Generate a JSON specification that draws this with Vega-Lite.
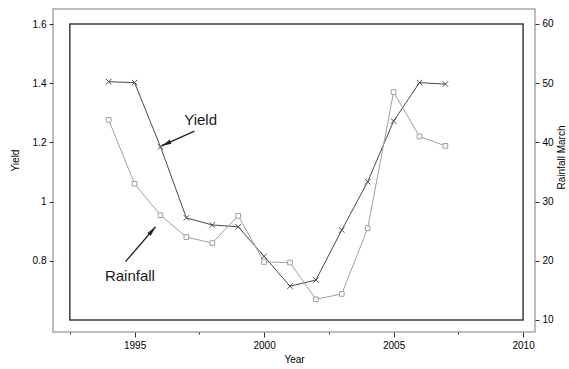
{
  "$schema": "https://vega.github.io/schema/vega-lite/v6.json",
  "width": 482,
  "height": 323,
  "autosize": "none",
  "padding": {"left": 53, "top": 9, "right": 34, "bottom": 37},
  "background": "white",
  "config": {
    "view": {"stroke": "#a8a8a8", "strokeWidth": 1.5},
    "font": "Liberation Sans",
    "axis": {
      "domain": false,
      "grid": false,
      "labelFont": "Liberation Sans",
      "labelFontSize": 10,
      "labelColor": "#000000",
      "tickColor": "#333333",
      "tickWidth": 1,
      "titleFont": "Liberation Sans",
      "titleFontSize": 10,
      "titleFontWeight": "normal",
      "titleColor": "#000000"
    }
  },
  "datasets": {
    "series": [
      {"year": 1994, "yield": 1.405, "rainfall": 43.8},
      {"year": 1995, "yield": 1.402, "rainfall": 33.0},
      {"year": 1996, "yield": 1.185, "rainfall": 27.7},
      {"year": 1997, "yield": 0.945, "rainfall": 24.0},
      {"year": 1998, "yield": 0.921, "rainfall": 23.0},
      {"year": 1999, "yield": 0.915, "rainfall": 27.6},
      {"year": 2000, "yield": 0.815, "rainfall": 19.8},
      {"year": 2001, "yield": 0.714, "rainfall": 19.7},
      {"year": 2002, "yield": 0.735, "rainfall": 13.5},
      {"year": 2003, "yield": 0.904, "rainfall": 14.4},
      {"year": 2004, "yield": 1.067, "rainfall": 25.5},
      {"year": 2005, "yield": 1.272, "rainfall": 48.5},
      {"year": 2006, "yield": 1.402, "rainfall": 41.0},
      {"year": 2007, "yield": 1.397, "rainfall": 39.4}
    ],
    "notes": [
      {"label": "Yield", "tx": 1997.55, "ty": 1.276, "ax": 1997.31, "ay": 1.238, "hx": 1996.04, "hy": 1.188},
      {"label": "Rainfall", "tx": 1994.82, "ty": 0.749, "ax": 1994.65, "ay": 0.797, "hx": 1995.81, "hy": 0.915}
    ]
  },
  "resolve": {"scale": {"y": "independent"}},
  "layer": [
    {
      "layer": [
        {
          "data": {"values": [{}]},
          "mark": {"type": "rect", "filled": false, "color": "#3c3c3c", "strokeWidth": 1.5},
          "encoding": {
            "x": {"datum": 1992.5, "type": "quantitative", "scale": {"domain": [1991.85, 2010.46], "nice": false, "zero": false}},
            "x2": {"datum": 2010},
            "y": {"datum": 0.6, "type": "quantitative", "scale": {"domain": [0.5594, 1.6507], "nice": false, "zero": false}},
            "y2": {"datum": 1.6}
          }
        },
        {
          "data": {"name": "series"},
          "mark": {"type": "line", "color": "#4a4a4a", "strokeWidth": 1},
          "encoding": {
            "x": {
              "field": "year", "type": "quantitative",
              "scale": {"domain": [1991.85, 2010.46], "nice": false, "zero": false},
              "axis": {
                "orient": "bottom",
                "values": [1992.5, 1995, 1997.5, 2000, 2002.5, 2005, 2007.5, 2010],
                "format": "d",
                "labelExpr": "datum.value % 5 === 0 ? datum.label : ''",
                "tickSize": {"condition": {"test": "datum.value % 5 === 0", "value": 5}, "value": 2},
                "labelPadding": 3,
                "title": "Year",
                "titlePadding": 4
              }
            },
            "y": {
              "field": "yield", "type": "quantitative",
              "scale": {"domain": [0.5594, 1.6507], "nice": false, "zero": false},
              "axis": {
                "orient": "left",
                "values": [0.8, 1, 1.2, 1.4, 1.6],
                "format": "~g",
                "tickSize": 4,
                "labelPadding": 3,
                "title": "Yield",
                "titlePadding": 12,
                "titleY": 151
              }
            }
          }
        },
        {
          "data": {"name": "series"},
          "mark": {"type": "point", "shape": "M-1,-1L1,1M-1,1L1,-1", "filled": false, "size": 30, "strokeWidth": 1, "color": "#4a4a4a", "opacity": 1},
          "encoding": {
            "x": {"field": "year", "type": "quantitative", "scale": {"domain": [1991.85, 2010.46], "nice": false, "zero": false}},
            "y": {"field": "yield", "type": "quantitative", "scale": {"domain": [0.5594, 1.6507], "nice": false, "zero": false}}
          }
        },
        {
          "data": {"name": "notes"},
          "mark": {"type": "rule", "color": "#222222", "strokeWidth": 1.3},
          "encoding": {
            "x": {"field": "ax", "type": "quantitative", "scale": {"domain": [1991.85, 2010.46], "nice": false, "zero": false}},
            "y": {"field": "ay", "type": "quantitative", "scale": {"domain": [0.5594, 1.6507], "nice": false, "zero": false}},
            "x2": {"field": "hx"},
            "y2": {"field": "hy"}
          }
        },
        {
          "data": {"name": "notes"},
          "mark": {"type": "point", "shape": "M0,0L-0.45,2L0.45,2Z", "filled": true, "size": 100, "color": "#222222", "opacity": 1},
          "encoding": {
            "x": {"field": "hx", "type": "quantitative", "scale": {"domain": [1991.85, 2010.46], "nice": false, "zero": false}},
            "y": {"field": "hy", "type": "quantitative", "scale": {"domain": [0.5594, 1.6507], "nice": false, "zero": false}},
            "angle": {"condition": {"test": "datum.label === 'Yield'", "value": 245.5}, "value": 40.6}
          }
        },
        {
          "data": {"name": "notes"},
          "mark": {"type": "text", "fontSize": 15, "color": "#1a1a1a", "align": "center", "baseline": "middle", "font": "Liberation Sans"},
          "encoding": {
            "x": {"field": "tx", "type": "quantitative", "scale": {"domain": [1991.85, 2010.46], "nice": false, "zero": false}},
            "y": {"field": "ty", "type": "quantitative", "scale": {"domain": [0.5594, 1.6507], "nice": false, "zero": false}},
            "text": {"field": "label"}
          }
        }
      ]
    },
    {
      "data": {"name": "series"},
      "layer": [
        {
          "mark": {"type": "line", "color": "#a0a0a0", "strokeWidth": 1},
          "encoding": {
            "x": {"field": "year", "type": "quantitative", "scale": {"domain": [1991.85, 2010.46], "nice": false, "zero": false}},
            "y": {
              "field": "rainfall", "type": "quantitative",
              "scale": {"domain": [7.97, 62.53], "nice": false, "zero": false},
              "axis": {
                "orient": "right",
                "values": [10, 20, 30, 40, 50, 60],
                "tickSize": 4,
                "labelPadding": 3,
                "title": "Rainfall March",
                "titleAngle": -90,
                "titleBaseline": "top",
                "titlePadding": 3,
                "titleY": 148
              }
            }
          }
        },
        {
          "mark": {"type": "point", "shape": "square", "size": 22, "fill": "white", "stroke": "#a0a0a0", "strokeWidth": 1, "opacity": 1},
          "encoding": {
            "x": {"field": "year", "type": "quantitative", "scale": {"domain": [1991.85, 2010.46], "nice": false, "zero": false}},
            "y": {"field": "rainfall", "type": "quantitative", "scale": {"domain": [7.97, 62.53], "nice": false, "zero": false}}
          }
        }
      ]
    }
  ]
}
